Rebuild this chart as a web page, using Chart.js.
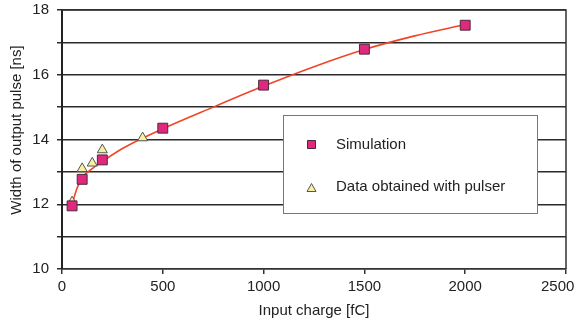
<!DOCTYPE html>
<html><head><meta charset="utf-8">
<script src="https://cdn.jsdelivr.net/npm/chart.js@4/dist/chart.umd.min.js"></script>
<style>html,body{margin:0;padding:0;background:#fff}#wrap{width:578px;height:324px}</style>
</head><body><div id="wrap"><canvas id="c" width="578" height="324"></canvas></div>
<script>
const simX = [50, 100, 200, 500, 1000, 1500, 2000];
const simY = [11.95, 12.77, 13.37, 14.35, 15.68, 16.79, 17.53];
const pulX = [50, 100, 150, 200, 400];
const pulY = [12.07, 13.1, 13.27, 13.68, 14.05];
const fitX = [50, 75, 100, 150, 200, 300, 500, 750, 1000, 1250, 1500, 1750, 2000];
const fitY = [12.0, 12.5, 12.82, 13.1, 13.32, 13.72, 14.33, 15.0, 15.65, 16.25, 16.78, 17.2, 17.55];
const seriesNames = ["Simulation", "Data obtained with pulser"];
const xTitle = "Input charge [fC]";
const yTitle = "Width of output pulse [ns]";

const FONT = "'Liberation Sans', Arial, sans-serif";
const toPts = (xs, ys) => xs.map((x, i) => ({x, y: ys[i]}));

const frame = {
  id: 'frame',
  beforeDatasetsDraw(chart) {
    const a = chart.chartArea, ctx = chart.ctx;
    ctx.save();
    ctx.strokeStyle = '#333';
    ctx.lineWidth = 1.5;
    ctx.beginPath();
    ctx.moveTo(a.left, a.top); ctx.lineTo(a.right, a.top); ctx.lineTo(a.right, a.bottom);
    ctx.stroke();
    ctx.restore();
  },
  afterDraw(chart) {
    const ctx = chart.ctx;
    const L = 283, T = 115, W = 254, H = 98;
    ctx.save();
    ctx.fillStyle = '#fff';
    ctx.fillRect(L, T, W, H);
    ctx.strokeStyle = '#777';
    ctx.lineWidth = 1;
    ctx.strokeRect(L + 0.5, T + 0.5, W, H);
    const d0 = chart.data.datasets[0], d1 = chart.data.datasets[1];
    ctx.fillStyle = d0.backgroundColor; ctx.strokeStyle = d0.borderColor; ctx.lineWidth = 1;
    ctx.beginPath(); ctx.rect(307.5, 140.5, 8, 8); ctx.fill(); ctx.stroke();
    ctx.fillStyle = d1.backgroundColor; ctx.strokeStyle = d1.borderColor;
    ctx.beginPath(); ctx.moveTo(311.5, 183.5); ctx.lineTo(316, 191.5); ctx.lineTo(307, 191.5); ctx.closePath(); ctx.fill(); ctx.stroke();
    ctx.fillStyle = '#222';
    ctx.font = '15px ' + FONT;
    ctx.textBaseline = 'middle';
    ctx.fillText(seriesNames[0], 336, 145);
    ctx.fillText(seriesNames[1], 336, 187);
    // y axis title
    ctx.translate(17, 130);
    ctx.rotate(-Math.PI / 2);
    ctx.textAlign = 'center';
    ctx.fillText(yTitle, 0, 0);
    ctx.restore();
  }
};

new Chart(document.getElementById('c'), {
  type: 'scatter',
  data: {
    datasets: [
      {label: seriesNames[0], data: toPts(simX, simY), pointStyle: 'rect', pointRadius: 7, pointHoverRadius: 7,
       backgroundColor: '#e2287e', borderColor: '#4a2a3a', borderWidth: 1, order: 0},
      {label: seriesNames[1], data: toPts(pulX, pulY), pointStyle: 'triangle', pointRadius: 5.8, pointHoverRadius: 5.8,
       backgroundColor: '#f7efa2', borderColor: '#555', borderWidth: 1, order: 1},
      {label: 'fit', data: toPts(fitX, fitY), showLine: true, pointRadius: 0, borderColor: '#f04428', borderWidth: 1.6,
       tension: 0.4, cubicInterpolationMode: 'monotone', fill: false, order: 2}
    ]
  },
  options: {
    responsive: false, animation: false, devicePixelRatio: 1,
    layout: {padding: {left: 0, right: 12, top: 10, bottom: 0}},
    plugins: {legend: {display: false}, tooltip: {enabled: false}},
    scales: {
      x: {
        type: 'linear', min: 0, max: 2500,
        ticks: {stepSize: 500, color: '#222', font: {family: FONT, size: 15}, padding: 4,
                callback: v => (v === 2500 ? String(v) + '    ' : String(v))},
        grid: {drawOnChartArea: false, drawTicks: true, tickLength: 5, color: '#333', lineWidth: 1.5},
        border: {display: true, color: '#333', width: 1.5},
        title: {display: true, text: xTitle, color: '#222', font: {family: FONT, size: 15}, padding: {top: 0}},
        afterFit(s) { s.height = 55; s.paddingRight = 0; s.paddingLeft = 0; }
      },
      y: {
        min: 10, max: 18,
        ticks: {stepSize: 1, color: '#222', font: {family: FONT, size: 15}, padding: 8,
                callback: v => (v % 2 === 0 ? String(v) : '')},
        grid: {drawTicks: true, tickLength: 5, color: '#2a2a2a', lineWidth: 1.5},
        border: {display: true, color: '#222', width: 2},
        title: {display: false},
        afterFit(s) { s.width = 62; s.paddingTop = 0; s.paddingBottom = 0; }
      }
    }
  },
  plugins: [frame]
});
</script>
</body></html>
